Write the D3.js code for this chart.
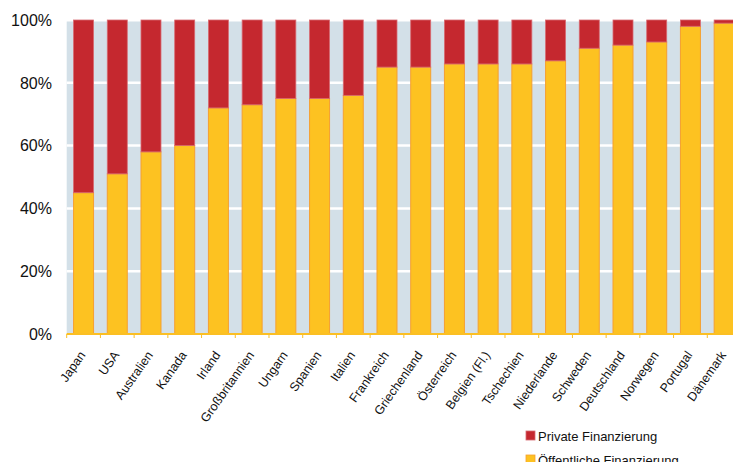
<!DOCTYPE html>
<html>
<head>
<meta charset="utf-8">
<script src="https://cdn.jsdelivr.net/npm/d3@7"></script>
<style>
  body { margin: 0; background: #fff; }
  svg { display: block; font-family: "Liberation Sans", Arial, Helvetica, sans-serif; }
</style>
</head>
<body>
<svg id="chart" width="733" height="462"></svg>
<script>
  const width = 733, height = 462;

  const countries = ["Japan", "USA", "Australien", "Kanada", "Irland", "Großbritannien",
    "Ungarn", "Spanien", "Italien", "Frankreich", "Griechenland", "Österreich",
    "Belgien (Fl.)", "Tschechien", "Niederlande", "Schweden", "Deutschland",
    "Norwegen", "Portugal", "Dänemark"];

  // Anteil öffentlicher Finanzierung in %
  const publicShare = [45, 51, 58, 60, 72, 73, 75, 75, 76, 85, 85, 86, 86, 86, 87, 91, 92, 93, 98, 99];
  // Rest = private Finanzierung
  const privateShare = publicShare.map(v => 100 - v);

  const yTicks = [0, 20, 40, 60, 80, 100];
  const legendLabels = ["Private Finanzierung", "Öffentliche Finanzierung"];

  const colors = { priv: "#c5282f", pub: "#fdc221", bg: "#d3e0e8" };

  const svg = d3.select("#chart");

  const plotLeft = 66.7, plotRight = 741, plotTop = 20, plotBottom = 334;

  const x = d3.scaleBand()
    .domain(countries)
    .range([plotLeft, plotRight])
    .paddingInner(0.407)
    .paddingOuter(0.2035);

  const y = d3.scaleLinear()
    .domain([0, 100])
    .range([plotBottom, plotTop]);

  // Plot background
  svg.append("rect")
    .attr("x", plotLeft)
    .attr("y", y(100) + 1.5)
    .attr("width", plotRight - plotLeft)
    .attr("height", plotBottom - y(100) - 1.5)
    .attr("fill", colors.bg);

  // Gridlines
  svg.append("g")
    .selectAll("line")
    .data(yTicks.filter(d => d > 0 && d < 100))
    .join("line")
    .attr("x1", plotLeft)
    .attr("x2", plotRight)
    .attr("y1", d => y(d))
    .attr("y2", d => y(d))
    .attr("stroke", "#fff")
    .attr("stroke-width", 2.5);

  const rows = countries.map((c, i) => ({ country: c, pub: publicShare[i], priv: privateShare[i] }));

  // Öffentliche Finanzierung (unten)
  svg.append("g")
    .selectAll("rect")
    .data(rows)
    .join("rect")
    .attr("x", d => x(d.country))
    .attr("y", d => y(d.pub))
    .attr("width", x.bandwidth())
    .attr("height", d => y(0) - y(d.pub))
    .attr("fill", colors.pub)
    .attr("stroke", "#f5a031")
    .attr("stroke-width", 1);

  // Private Finanzierung (oben)
  svg.append("g")
    .selectAll("rect")
    .data(rows)
    .join("rect")
    .attr("x", d => x(d.country))
    .attr("y", d => y(100))
    .attr("width", x.bandwidth())
    .attr("height", d => y(d.pub) - y(100))
    .attr("fill", colors.priv)
    .attr("stroke", "#d86a72")
    .attr("stroke-width", 0.8);

  // X axis line and ticks at band boundaries
  const step = x.step();
  const tickPos = countries.map(c => x(c) - step * x.paddingInner() / 2);
  tickPos.push(plotRight);

  svg.append("line")
    .attr("x1", plotLeft)
    .attr("x2", plotRight)
    .attr("y1", plotBottom)
    .attr("y2", plotBottom)
    .attr("stroke", "#fbbf24")
    .attr("stroke-width", 2);

  svg.append("g")
    .selectAll("line")
    .data(tickPos)
    .join("line")
    .attr("x1", d => d)
    .attr("x2", d => d)
    .attr("y1", plotBottom)
    .attr("y2", plotBottom + 4)
    .attr("stroke", "#fbbf24")
    .attr("stroke-width", 1);

  // Y labels
  svg.append("g")
    .selectAll("text")
    .data(yTicks)
    .join("text")
    .attr("x", 52)
    .attr("y", d => y(d))
    .attr("dy", "0.36em")
    .attr("text-anchor", "end")
    .attr("font-size", 16)
    .attr("fill", "#111")
    .text(d => d + "%");

  // X labels
  svg.append("g")
    .selectAll("text")
    .data(countries)
    .join("text")
    .attr("transform", d => `translate(${x(d) + x.bandwidth() / 2 + 2.5},${plotBottom + 21}) rotate(-55)`)
    .attr("text-anchor", "end")
    .attr("font-size", 12.5)
    .attr("fill", "#111")
    .text(d => d);

  // Legend
  const legend = svg.append("g")
    .selectAll("g")
    .data(legendLabels)
    .join("g")
    .attr("transform", (d, i) => `translate(526,${431 + i * 24})`);

  legend.append("rect")
    .attr("width", 9)
    .attr("height", 9)
    .attr("fill", (d, i) => i === 0 ? colors.priv : colors.pub)
    .attr("stroke", (d, i) => i === 0 ? "#d86a72" : "#f5a031")
    .attr("stroke-width", 0.8);

  legend.append("text")
    .attr("x", 12)
    .attr("y", 9.5)
    .attr("font-size", 13)
    .attr("fill", "#111")
    .text(d => d);
</script>
</body>
</html>
